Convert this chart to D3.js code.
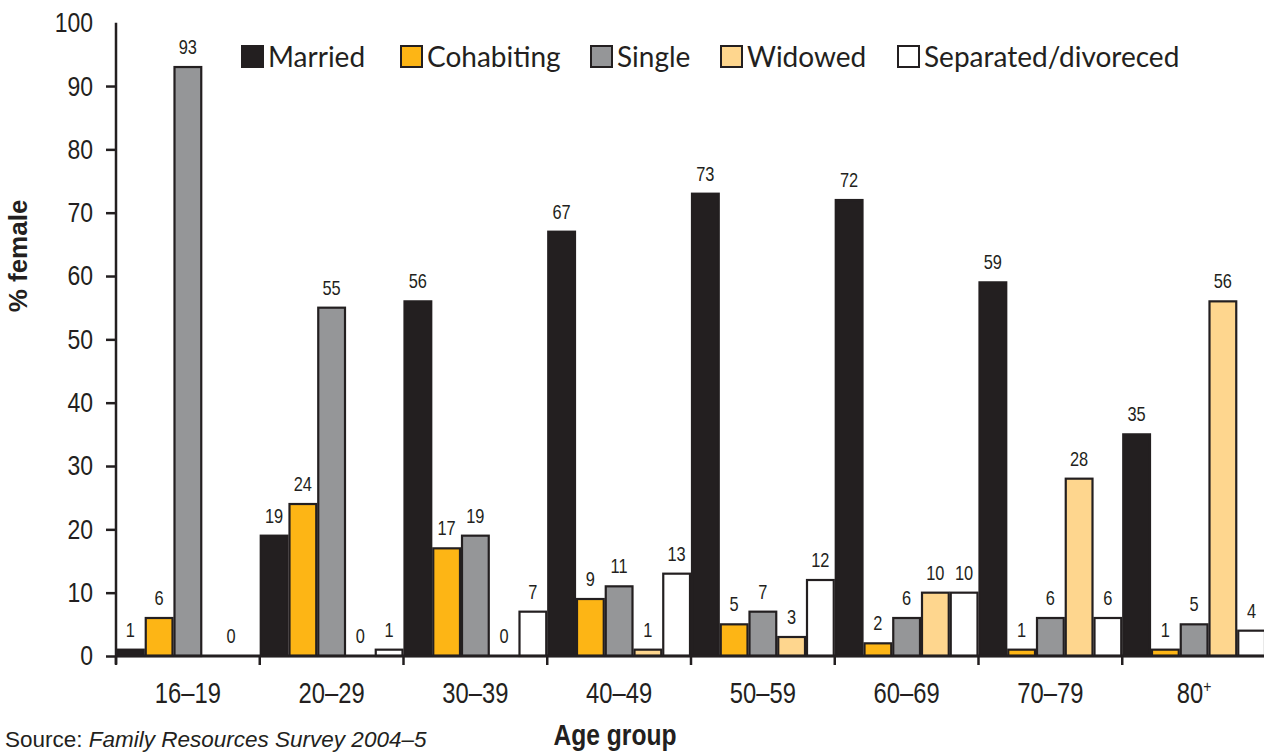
<!DOCTYPE html>
<html>
<head>
<meta charset="utf-8">
<script src="https://cdn.jsdelivr.net/npm/d3@7/dist/d3.min.js"></script>
<style>
  html, body { margin: 0; padding: 0; background: #fff; }
  svg { display: block; }
  text { font-family: "Liberation Sans", Arial, sans-serif; }
  text.legend-label { font-family: Lato, "Open Sans", sans-serif; }
</style>
</head>
<body>
<svg id="chart" width="1264" height="753"></svg>
<script>
// Marital status of women by age group (% of females)
const ageGroups = ["16–19", "20–29", "30–39", "40–49", "50–59", "60–69", "70–79", "80+"];
const seriesNames = ["Married", "Cohabiting", "Single", "Widowed", "Separated/divoreced"];
const married    = [1, 19, 56, 67, 73, 72, 59, 35];
const cohabiting = [6, 24, 17, 9, 5, 2, 1, 1];
const single     = [93, 55, 19, 11, 7, 6, 6, 5];
const widowed    = [0, 0, 0, 1, 3, 10, 28, 56];
const separated  = [0, 1, 7, 13, 12, 10, 6, 4];
const yTicks = [0, 10, 20, 30, 40, 50, 60, 70, 80, 90, 100];
const seriesColors = ["#231f20", "#fdb515", "#959698", "#fed68e", "#ffffff"];

const seriesValues = [married, cohabiting, single, widowed, separated];
const ink = "#231f20";
const NARROW = 0.82; // horizontal squeeze giving a condensed face

// Squeeze text horizontally while keeping its anchor point in place
function condense(sel) {
  sel.each(function () {
    const t = d3.select(this);
    const x = +(t.attr("x") || 0);
    t.attr("x", x / NARROW).attr("transform", `scale(${NARROW},1)`);
  });
}

const svg = d3.select("#chart");

const x0 = d3.scaleBand().domain(ageGroups).range([116, 1266]).padding(0);
const x1 = d3.scaleBand().domain(seriesNames).range([0, x0.bandwidth()]).padding(0);
const y = d3.scaleLinear().domain([0, 100]).range([656, 22.7]);

// Bars
const groups = svg.append("g").selectAll("g")
  .data(ageGroups)
  .join("g")
  .attr("transform", d => `translate(${x0(d)},0)`);

groups.selectAll("rect")
  .data((g, gi) => seriesNames.map((s, si) => ({ s, si, v: seriesValues[si][gi] })))
  .join("rect")
  .attr("x", d => x1(d.s) + 1)
  .attr("width", x1.bandwidth() - 2)
  .attr("y", d => y(d.v))
  .attr("height", d => y(0) - y(d.v))
  .attr("fill", d => seriesColors[d.si])
  .attr("stroke", ink)
  .attr("stroke-width", 2.2);

// Value labels (a pair of zero widowed/separated values shares one label)
groups.each(function (g, gi) {
  const sel = d3.select(this);
  const bothZero = widowed[gi] === 0 && separated[gi] === 0;
  seriesNames.forEach((s, si) => {
    const v = seriesValues[si][gi];
    let cx = x1(s) + x1.bandwidth() / 2;
    if (bothZero && si === 4) return;
    if (bothZero && si === 3) cx = x1(s) + x1.bandwidth();
    sel.append("text")
      .attr("x", cx)
      .attr("y", y(v) - 13)
      .attr("text-anchor", "middle")
      .attr("font-size", 20)
      .attr("fill", ink)
      .text(v)
      .call(condense);
  });
});

// Y axis
const yAxis = svg.append("g")
  .attr("transform", "translate(116,0)")
  .call(d3.axisLeft(y).tickValues(yTicks).tickSize(10).tickSizeOuter(0).tickPadding(13));
yAxis.select(".domain").attr("stroke", ink).attr("stroke-width", 2.5)
  .attr("d", `M0,${y(100)}V${y(0) + 8}`);
yAxis.selectAll(".tick line").attr("stroke", ink).attr("stroke-width", 2.5)
  .filter(d => d === 100).remove();
yAxis.selectAll(".tick text")
  .attr("font-family", null)
  .attr("font-size", 28)
  .attr("fill", ink)
  .call(condense);

// X axis: ticks at group boundaries, labels centred in each group
const xAxis = svg.append("g").attr("transform", `translate(0,${y(0)})`);
xAxis.append("line")
  .attr("x1", 116).attr("x2", 1266)
  .attr("stroke", ink).attr("stroke-width", 3);
xAxis.selectAll(".gtick")
  .data(ageGroups)
  .join("line")
  .attr("class", "gtick")
  .attr("x1", d => x0(d)).attr("x2", d => x0(d))
  .attr("y1", 0).attr("y2", 9)
  .attr("stroke", ink).attr("stroke-width", 2.5);
const xl = xAxis.selectAll(".glabel")
  .data(ageGroups)
  .join("text")
  .attr("class", "glabel")
  .attr("x", d => x0(d) + x0.bandwidth() / 2)
  .attr("y", 47)
  .attr("text-anchor", "middle")
  .attr("font-size", 29)
  .attr("fill", ink);
xl.each(function (d) {
  const t = d3.select(this);
  if (d.endsWith("+")) {
    t.append("tspan").text(d.slice(0, -1));
    t.append("tspan").attr("dy", -11).attr("font-size", 17).text("+");
  } else {
    t.text(d);
  }
});
xl.call(condense);

// Axis titles
svg.append("text")
  .attr("transform", `translate(27,256) rotate(-90)`)
  .attr("text-anchor", "middle")
  .attr("font-weight", "bold")
  .attr("font-size", 26)
  .attr("fill", ink)
  .text("% female");

svg.append("text")
  .attr("x", 615).attr("y", 745)
  .attr("text-anchor", "middle")
  .attr("font-weight", "bold")
  .attr("font-size", 30)
  .attr("fill", ink)
  .text("Age group")
  .call(condense);

// Source note
const src = svg.append("text")
  .attr("x", 5).attr("y", 747)
  .attr("font-size", 22.5)
  .attr("fill", ink);
src.append("tspan").text("Source: ");
src.append("tspan").attr("font-style", "italic").text("Family Resources Survey 2004–5");

// Legend
const legendX = [241, 400, 590, 720, 897];
const legend = svg.append("g").selectAll("g")
  .data(seriesNames)
  .join("g")
  .attr("transform", (d, i) => `translate(${legendX[i]},45)`);
legend.append("rect")
  .attr("x", 1).attr("y", 1)
  .attr("width", 21).attr("height", 21)
  .attr("fill", (d, i) => seriesColors[i])
  .attr("stroke", ink)
  .attr("stroke-width", 2);
legend.append("text")
  .attr("class", "legend-label")
  .attr("x", 27).attr("y", 22)
  .attr("font-size", 28)
  .attr("fill", ink)
  .text(d => d);
</script>
</body>
</html>
